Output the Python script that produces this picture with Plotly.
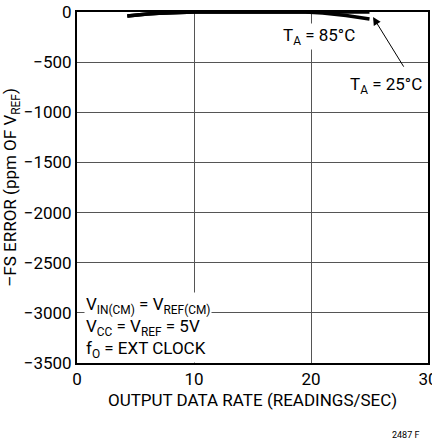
import plotly.graph_objects as go

FONT = "Liberation Sans Narrow, Roboto, Arial, sans-serif"

# data
rate_25 = [4.3, 5, 6, 7, 8, 10, 15, 20, 25]
err_25 = [-40, -30, -20, -12, -6, 0, 0, 0, 0]
rate_85 = [4.3, 5, 6, 7, 8, 10, 15, 19.5, 21, 23, 25]
err_85 = [-40, -30, -20, -12, -6, 0, 0, 0, -10, -35, -70]

x_ticks = [0, 10, 20, 30]
y_ticks = [0, -500, -1000, -1500, -2000, -2500, -3000, -3500]
y_tick_text = ["0" if v == 0 else "\u2212" + str(-v) for v in y_ticks]

fig = go.Figure()
fig.add_trace(go.Scatter(x=rate_85, y=err_85, mode="lines",
                         line={"color": "black", "width": 3.5}))
fig.add_trace(go.Scatter(x=rate_25, y=err_25, mode="lines",
                         line={"color": "black", "width": 3.5}))

axis_common = dict(
    showline=True, linecolor="black", linewidth=2, mirror=True,
    showgrid=True, gridcolor="#555555", gridwidth=1,
    zeroline=False, ticks="", automargin=False, ticklabeloverflow="allow",
    tickfont={"family": FONT, "size": 17, "color": "black"},
)

fig.update_layout(
    width=432, height=440,
    margin={"l": 77, "r": 4, "t": 12, "b": 77},
    paper_bgcolor="white", plot_bgcolor="white",
    showlegend=False, hovermode=False,
    font={"family": FONT, "color": "black"},
    xaxis=dict(axis_common, range=[0, 30], tickvals=x_ticks,
               title={"text": "OUTPUT DATA RATE (READINGS/SEC)",
                      "font": {"family": FONT, "size": 17}, "standoff": 6}),
    yaxis=dict(axis_common, range=[-3500, 0], tickvals=y_ticks,
               ticktext=y_tick_text,
               title={"text": "\u2013FS ERROR (ppm OF V<sub>REF</sub>)",
                      "font": {"family": FONT, "size": 17}, "standoff": 6}),
)

fig.add_annotation(x=20.7, y=-240, text="T<sub>A</sub> = 85°C", showarrow=False,
                   font={"family": FONT, "size": 17}, bgcolor="white")
fig.add_annotation(x=29.7, y=-730, xanchor="right", text="T<sub>A</sub> = 25°C",
                   showarrow=False, font={"family": FONT, "size": 17},
                   bgcolor="white")
fig.add_annotation(x=25.3, y=-50, ax=28.0, ay=-560, xref="x", yref="y",
                   axref="x", ayref="y", text="", showarrow=True,
                   arrowhead=2, arrowsize=1.6, arrowwidth=1, arrowcolor="black")
fig.add_annotation(
    x=0.02, y=0.0, xref="paper", yref="paper", xanchor="left", yanchor="bottom",
    align="left", showarrow=False, bgcolor="white",
    text="V<sub>IN(CM)</sub> = V<sub>REF(CM)</sub><br>"
         "V<sub>CC</sub> = V<sub>REF</sub> = 5V<br>"
         "f<sub>O</sub> = EXT CLOCK",
    font={"family": FONT, "size": 17},
)
fig.add_annotation(x=1.0, y=-0.205, xref="paper", yref="paper", xanchor="left",
                   yanchor="middle", showarrow=False, xshift=-38,
                   text="2487 F", font={"family": FONT, "size": 9})

# drop the default 8px body margin so the figure sits at the page corner
fig.write_html("out.html", config={"displayModeBar": False},
               post_script="document.body.style.margin='0';"
                           "document.body.style.overflow='hidden';")
